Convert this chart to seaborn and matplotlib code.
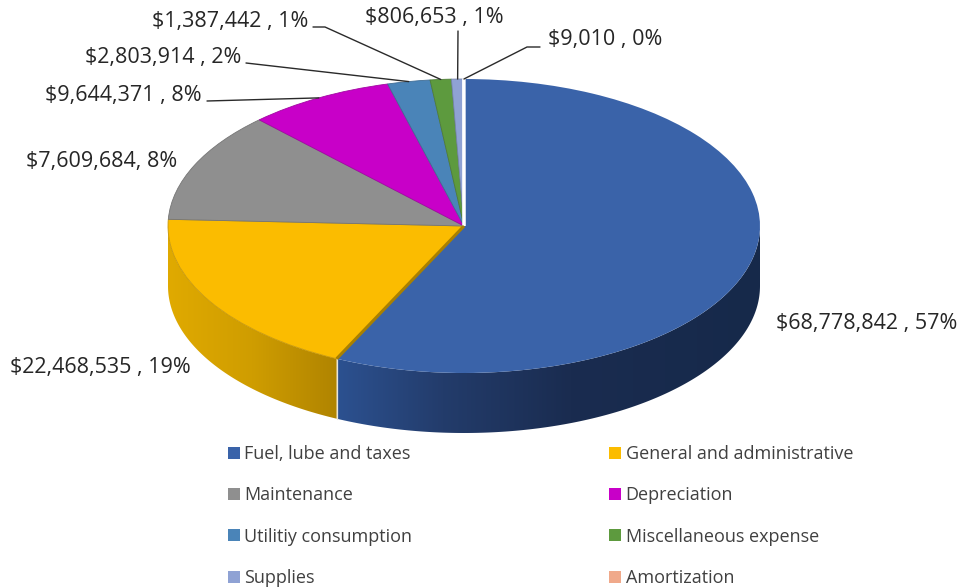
import numpy as np
import matplotlib
matplotlib.use("Agg")
import matplotlib.pyplot as plt
from matplotlib.colors import LinearSegmentedColormap
from matplotlib.patches import Patch, Polygon
from matplotlib.transforms import Affine2D
import seaborn as sns

# ---- data ----
categories = ["Fuel, lube and taxes", "General and administrative", "Maintenance", "Depreciation",
              "Utilitiy consumption", "Miscellaneous expense", "Supplies", "Amortization"]
# Slice sizes as drawn (the grey slice is drawn at about 12% in the picture)
slice_sizes = [68778842, 22468535, 14600000, 9644371, 2803914, 1387442, 806653, 9010]
data_labels = ["$68,778,842 , 57%", "$22,468,535 , 19%", "$7,609,684, 8%", "$9,644,371 , 8%",
               "$2,803,914 , 2%", "$1,387,442 , 1%", "$806,653 , 1%", "$9,010 , 0%"]
slice_colors = ["#3A63A9", "#FBBC00", "#8F8F8F", "#C800C8", "#4A84B8", "#5D9A3E", "#8FA2D4", "#F0A98A"]

# ---- layout (pixels) ----
W, H = 961, 587
CX, CY, RX, RY, DEPTH = 464, 226, 296, 147, 60
label_xy = [(776, 323), (10, 368), (26, 162), (45, 95), (85, 57), (152, 21), (365, 18), (548, 39)]
# Leader start points; each leader ends on the rim at the middle of its slice
leader_starts = [None, None, None,
                 [(207, 101)],
                 [(246, 63)],
                 [(313, 27), (325, 27)],
                 [(458, 31)],
                 [(540, 47), (527, 47)]]

sns.set_theme(style="white")
plt.rcParams["font.family"] = ["Open Sans", "DejaVu Sans"]
palette = sns.color_palette(slice_colors)

fig = plt.figure(figsize=(W / 100, H / 100), dpi=100)
ax = fig.add_axes([0, 0, 1, 1])
px = Affine2D().scale(1, -1).translate(0, H)  # figure pixels, y downwards

xlim = (-CX / RX, (W - CX) / RX)
ylim = ((CY - H) / RY, CY / RY)
d = DEPTH / RY

# Angles measured clockwise from 12 o'clock
sizes = np.array(slice_sizes, float)
edges = np.concatenate([[0], np.cumsum(sizes) / sizes.sum() * 360])


def side(a0, a1, stops):
    a0, a1 = max(a0, 90), min(a1, 270)
    t = np.radians(np.linspace(a0, a1, 200))
    x, y = np.sin(t), np.cos(t)
    verts = np.column_stack([np.r_[x, x[::-1]], np.r_[y, y[::-1] - d]])
    cmap = LinearSegmentedColormap.from_list("g", stops)
    im = ax.imshow(np.linspace(0, 1, 256)[None, :], cmap=cmap, aspect="auto", zorder=1,
                   extent=(x.min(), x.max(), (y - d).min(), y.max()))
    clip = Polygon(verts, closed=True, transform=ax.transData, fc="none", ec="none")
    ax.add_patch(clip)
    im.set_clip_path(clip)


side(edges[0], edges[1], [(0, "#2C5190"), (0.25, "#233C6B"), (0.55, "#1A2C50"), (1, "#16294A")])
side(edges[1], edges[2], [(0, "#E0AA00"), (0.5, "#CF9D00"), (1, "#B08400")])

wedges, _ = ax.pie(sizes, colors=palette, startangle=90, counterclock=False, center=(0, 0), radius=1,
                   wedgeprops=dict(linewidth=0.6))
for w, c in zip(wedges, slice_colors):
    w.set_edgecolor(sns.dark_palette(c, 5)[3])
    w.set_zorder(2)
wedges[0].set_edgecolor("none")
wedges[-1].set_edgecolor("white")
wedges[-1].set_linewidth(2.0)
wedges[-1].set_zorder(3)

# Dark cut face along the yellow / blue boundary, light seam on the side wall
t = np.radians(edges[1])
ax.plot([0, np.sin(t)], [0, np.cos(t)], color="#A98000", lw=2.2, zorder=3, solid_capstyle="butt")
ax.plot([np.sin(t)] * 2, [np.cos(t), np.cos(t) - d], color="#E8E4D8", lw=0.9, zorder=1.5)

ax.set_aspect("auto")
ax.set_xlim(xlim)
ax.set_ylim(ylim)
ax.axis("off")

for txt, (x, y) in zip(data_labels, label_xy):
    ax.text(x, y, txt, transform=px, fontsize=15.5, color="#262626", ha="left", va="center")

mids = np.radians((edges[:-1] + edges[1:]) / 2)
for pts, m in zip(leader_starts, mids):
    if pts:
        end = (CX + RX * np.sin(m), CY - RY * np.cos(m))
        xs, ys = zip(*(pts + [end]))
        ax.plot(xs, ys, transform=px, color="#2A2A2A", lw=1.0, zorder=4)

order = [0, 2, 4, 6, 1, 3, 5, 7]
handles = [Patch(facecolor=palette[i], edgecolor="none", label=categories[i]) for i in order]
leg = ax.legend(handles=handles, ncol=2, loc="upper left", bbox_to_anchor=(228, 445),
                bbox_transform=px, frameon=False, fontsize=13, labelcolor="#404040",
                borderpad=0, borderaxespad=0, handlelength=0.66, handleheight=0.66,
                handletextpad=0.25, labelspacing=1.293, columnspacing=10.9)

fig.savefig("out.png", dpi=100)
